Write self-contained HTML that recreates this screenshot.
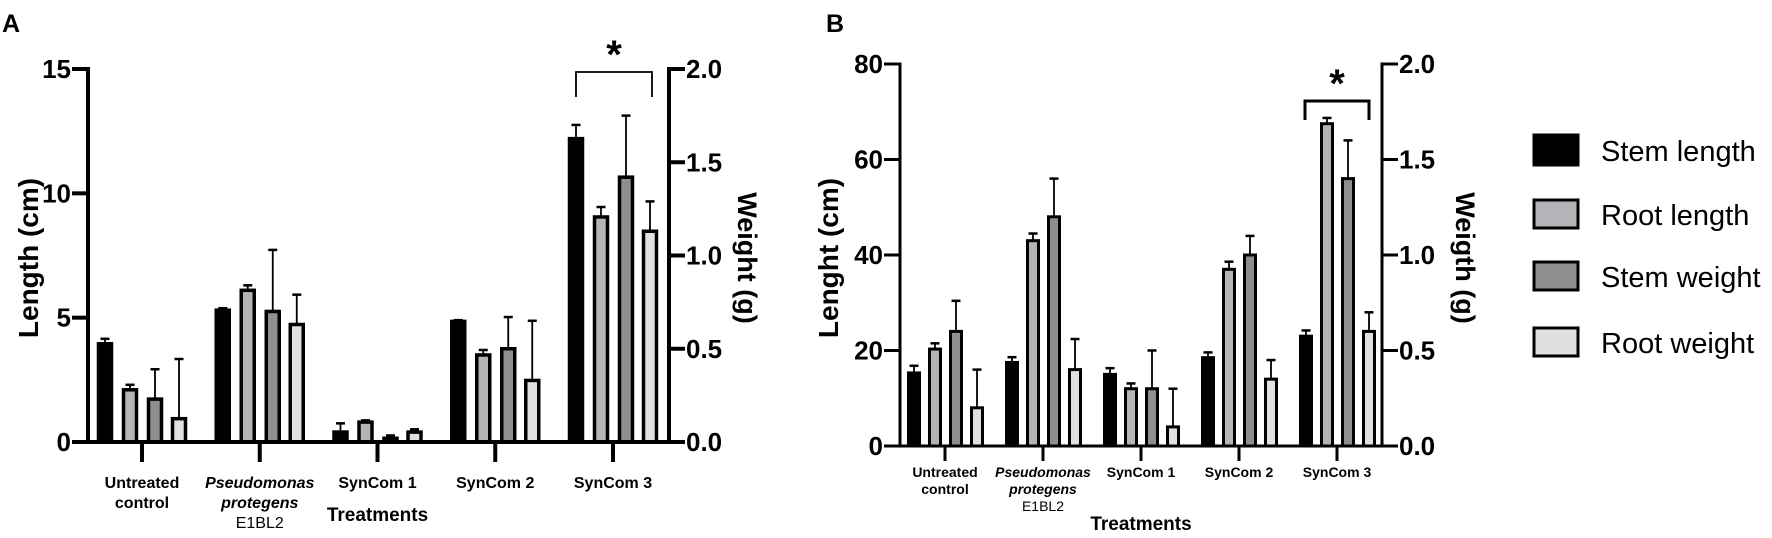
<!DOCTYPE html>
<html><head><meta charset="utf-8"><style>
html,body{margin:0;padding:0;background:#fff;}
svg{display:block;font-family:"Liberation Sans",sans-serif;}
</style></head><body>
<svg id="fig" width="1772" height="538" viewBox="0 0 1772 538" xmlns="http://www.w3.org/2000/svg">
<text x="2" y="32" font-size="25" font-weight="bold">A</text>
<text x="826" y="32" font-size="25" font-weight="bold">B</text>
<g id="pa"></g>
<g id="pb"></g>
<g>
 <g><rect x="1534" y="135" width="44" height="30" fill="#000" stroke="#000" stroke-width="3"/><text x="1601" y="161" font-size="29">Stem length</text></g>
 <g><rect x="1534" y="200" width="44" height="28" fill="#b4b4b8" stroke="#000" stroke-width="3"/><text x="1601" y="225" font-size="29">Root length</text></g>
 <g><rect x="1534" y="262" width="44" height="28" fill="#8e8e8e" stroke="#000" stroke-width="3"/><text x="1601" y="287" font-size="29">Stem weight</text></g>
 <g><rect x="1534" y="328" width="44" height="28" fill="#e0e0e0" stroke="#000" stroke-width="3"/><text x="1601" y="353" font-size="29">Root weight</text></g>
</g>
</svg>
<script>
// Panel A data
const aStemLen = [3.95, 5.3, 0.4, 4.85, 12.2];
const aStemLenErr = [0.2, 0.08, 0.35, 0.05, 0.55];
const aRootLen = [2.1, 6.1, 0.8, 3.5, 9.05];
const aRootLenErr = [0.2, 0.2, 0.07, 0.2, 0.4];
const aStemW = [0.23, 0.70, 0.02, 0.50, 1.42];
const aStemWErr = [0.16, 0.33, 0.015, 0.17, 0.33];
const aRootW = [0.125, 0.63, 0.053, 0.33, 1.13];
const aRootWErr = [0.32, 0.16, 0.015, 0.32, 0.16];
// Panel B data
const bStemLen = [15.3, 17.5, 15, 18.5, 23];
const bStemLenErr = [1.5, 1.1, 1.3, 1.1, 1.2];
const bRootLen = [20.3, 43, 12, 37, 67.5];
const bRootLenErr = [1.2, 1.5, 1.1, 1.6, 1.2];
const bStemW = [0.6, 1.2, 0.3, 1.0, 1.4];
const bStemWErr = [0.16, 0.2, 0.2, 0.1, 0.2];
const bRootW = [0.2, 0.4, 0.1, 0.35, 0.6];
const bRootWErr = [0.2, 0.16, 0.2, 0.1, 0.1];
const aLeftTicks = [0, 5, 10, 15];
const bLeftTicks = [0, 20, 40, 60, 80];
const rightTicks = ["0.0", "0.5", "1.0", "1.5", "2.0"];
const categories = ["Untreated control", "Pseudomonas protegens E1BL2", "SynCom 1", "SynCom 2", "SynCom 3"];

const NS = "http://www.w3.org/2000/svg";
function mk(parent, tag, attrs, txt) {
  const e = document.createElementNS(NS, tag);
  for (const k in attrs) e.setAttribute(k, attrs[k]);
  if (txt !== undefined) e.textContent = txt;
  parent.appendChild(e);
  return e;
}
const fills = ["#000", "#b4b4b8", "#8e8e8e", "#e0e0e0"];
const seriesNames = ["stem-length", "root-length", "stem-weight", "root-weight"];

function drawPanel(g, cfg) {
  const yL = v => cfg.y0 - (v / cfg.lmax) * (cfg.y0 - cfg.ytop);
  const yR = v => cfg.y0 - (v / 2) * (cfg.y0 - cfg.ytop);
  const xC = i => cfg.x1 + i * cfg.step;
  const series = [
    [cfg.d[0], cfg.d[1], yL], [cfg.d[2], cfg.d[3], yL],
    [cfg.d[4], cfg.d[5], yR], [cfg.d[6], cfg.d[7], yR]];
  for (let i = 0; i < 5; i++) {
    for (let s = 0; s < 4; s++) {
      const [vals, errs, sc] = series[s];
      const cx = xC(i) + cfg.off[s];
      const top = sc(vals[i]);
      const et = sc(vals[i] + errs[i]);
      const eb = mk(g, "line", {x1: cx, x2: cx, y1: top, y2: et, stroke: "#000", "stroke-width": 1.8});
      
      
      const cap = mk(g, "line", {x1: cx - 4.5, x2: cx + 4.5, y1: et, y2: et, stroke: "#000", "stroke-width": 2.5});
      
      
      const r = mk(g, "rect", {x: cx - cfg.bw / 2, y: top, width: cfg.bw, height: Math.max(0, cfg.y0 - top), fill: fills[s], stroke: "#000", "stroke-width": cfg.bs});
      
      
    }
    const t = mk(g, "line", {x1: xC(i), x2: xC(i), y1: cfg.y0, y2: cfg.y0 + cfg.tk, stroke: "#000", "stroke-width": cfg.aw});
    
    
  }
  const la = mk(g, "line", {x1: cfg.xa, x2: cfg.xa, y1: cfg.ytop - cfg.aw / 2, y2: cfg.y0, stroke: "#000", "stroke-width": cfg.aw});
  
  
  const ra = mk(g, "line", {x1: cfg.xr, x2: cfg.xr, y1: cfg.ytop - cfg.aw / 2, y2: cfg.y0, stroke: "#000", "stroke-width": cfg.aw});
  
  
  const xa = mk(g, "line", {x1: cfg.xa - 16, x2: cfg.xr + 16, y1: cfg.y0, y2: cfg.y0, stroke: "#000", "stroke-width": cfg.aw});
  
  
  cfg.lt.forEach(v => {
    const y = yL(v);
    const l = mk(g, "line", {x1: cfg.xa - 16, x2: cfg.xa, y1: y, y2: y, stroke: "#000", "stroke-width": cfg.aw});
    
    
    const tx = mk(g, "text", {x: cfg.xa - 17, y: y + 9, "font-size": 26, "font-weight": "bold", "text-anchor": "end"}, String(v));
    
    
  });
  rightTicks.forEach(lbl => {
    const y = yR(parseFloat(lbl));
    const l = mk(g, "line", {x1: cfg.xr, x2: cfg.xr + 16, y1: y, y2: y, stroke: "#000", "stroke-width": cfg.aw});
    
    
    const tx = mk(g, "text", {x: cfg.xr + 17, y: y + 9, "font-size": 26, "font-weight": "bold"}, lbl);
    
    
  });
  const lines = [["Untreated", "control"], ["Pseudomonas", "protegens", "E1BL2"], ["SynCom 1"], ["SynCom 2"], ["SynCom 3"]];
  lines.forEach((ls, i) => {
    const tx = mk(g, "text", {x: xC(i), y: cfg.ly, "font-size": cfg.lf, "font-weight": "bold", "text-anchor": "middle"});
    
    
    ls.forEach((s, j) => {
      const ts = mk(tx, "tspan", {x: xC(i), dy: j ? cfg.lh : 0}, s);
      if (i === 1 && j < 2) ts.setAttribute("font-style", "italic");
      if (i === 1 && j === 2) ts.setAttribute("font-weight", "normal");
    });
  });
  const tr = mk(g, "text", {x: xC(2), y: cfg.try, "font-size": 19, "font-weight": "bold", "text-anchor": "middle"}, "Treatments");
  
  
  const lt = mk(g, "text", {x: 0, y: 0, "font-size": 28, "font-weight": "bold", "text-anchor": "middle", transform: `translate(${cfg.ltx},${cfg.tcy}) rotate(-90)`}, cfg.ltitle);
  
  
  const rt = mk(g, "text", {x: 0, y: 0, "font-size": 27, "font-weight": "bold", "text-anchor": "middle", transform: `translate(${cfg.rtx},${cfg.tcy}) rotate(90)`}, cfg.rtitle);
  
  
  const br = mk(g, "path", {d: `M${cfg.bx0},${cfg.by1} V${cfg.by0} H${cfg.bx1} V${cfg.by1}`, fill: "none", stroke: "#000", "stroke-width": cfg.bk});
  
  
  const st = mk(g, "text", {x: (cfg.bx0 + cfg.bx1) / 2, y: cfg.by0 - 4, "font-size": 40, "font-weight": "bold", "text-anchor": "middle"}, "*");
  
  
}
drawPanel(document.getElementById("pa"), {
  d: [aStemLen, aStemLenErr, aRootLen, aRootLenErr, aStemW, aStemWErr, aRootW, aRootWErr],
  lmax: 15, y0: 442, ytop: 69, xa: 88, xr: 669, x1: 142, step: 117.75,
  off: [-37, -12, 13, 37], bw: 13, bs: 3.5, aw: 4, tk: 20, lt: aLeftTicks,
  ly: 488, lf: 16, lh: 20, try: 521, ltx: 38, rtx: 738, tcy: 258,
  ltitle: "Length (cm)", rtitle: "Weight (g)", bx0: 576, bx1: 652, by0: 72, by1: 97, bk: 1.8
});
drawPanel(document.getElementById("pb"), {
  d: [bStemLen, bStemLenErr, bRootLen, bRootLenErr, bStemW, bStemWErr, bRootW, bRootWErr],
  lmax: 80, y0: 446, ytop: 64, xa: 900, xr: 1382, x1: 945, step: 98,
  off: [-31, -10, 11, 32], bw: 11, bs: 3, aw: 3, tk: 15, lt: bLeftTicks,
  ly: 477, lf: 14, lh: 17, try: 530, ltx: 838, rtx: 1456, tcy: 258,
  ltitle: "Lenght (cm)", rtitle: "Weigth (g)", bx0: 1305, bx1: 1369, by0: 101, by1: 120, bk: 3
});
</script>
</body></html>
